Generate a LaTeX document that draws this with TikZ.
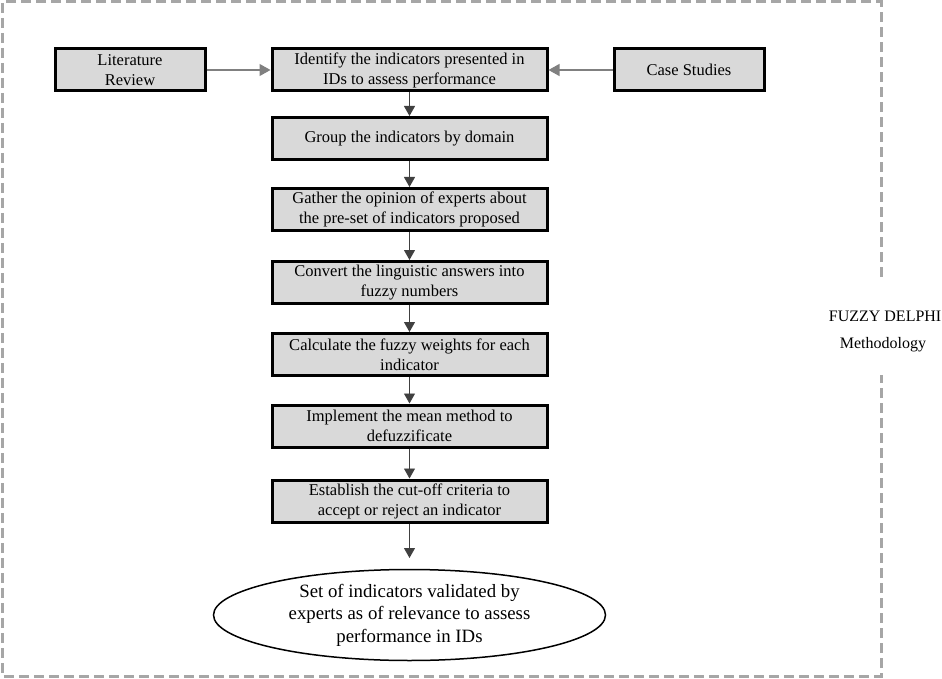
\documentclass[tikz,border=0pt]{standalone}
\usepackage{fontspec}
\setmainfont{Liberation Serif}
\usetikzlibrary{arrows.meta,shapes.geometric}
\definecolor{boxfill}{HTML}{D9D9D9}
\definecolor{dashgray}{HTML}{A6A6A6}
\definecolor{linegray}{HTML}{808080}
\tikzset{
  stepbox/.style={draw=black, line width=3pt, fill=boxfill, minimum width=275pt, minimum height=42pt,
    align=center, inner sep=0pt, font=\fontsize{16.5}{20}\selectfont},
  sidebox/.style={stepbox, minimum width=150pt},
  flow/.style={draw=black!75, line width=0.9pt, -{Triangle[length=10pt,width=11pt]}},
  sideflow/.style={draw=linegray, line width=1.2pt, -{Triangle[length=11pt,width=12pt]}},
  border/.style={draw=dashgray, line width=3pt, dash pattern=on 10pt off 5pt},
  lbl/.style={font=\fontsize{16}{20}\selectfont, inner sep=0pt}
}
\begin{document}
\begin{tikzpicture}[x=1pt,y=-1pt]
\useasboundingbox (0,0) rectangle (942,679);
% dashed frame
\draw[border] (881,277) -- (881,2) -- (2,2) -- (2,676) -- (881,676) -- (881,375);
% nodes
\node[sidebox] (lit) at (130,70) {Literature\\Review};
\node[stepbox] (idf) at (409.5,70) {Identify the indicators presented in\\IDs to assess performance};
\node[sidebox] (case) at (689,70) {Case Studies};
\node[stepbox] (grp) at (409.5,138.5) {Group the indicators by domain};
\node[stepbox] (gat) at (409.5,209.5) {Gather the opinion of experts about\\the pre-set of indicators proposed};
\node[stepbox] (con) at (409.5,282.5) {Convert the linguistic answers into\\fuzzy numbers};
\node[stepbox] (cal) at (409.5,354.5) {Calculate the fuzzy weights for each\\indicator};
\node[stepbox] (imp) at (409.5,426) {Implement the mean method to\\defuzzificate};
\node[stepbox] (est) at (409.5,501) {Establish the cut-off criteria to\\accept or reject an indicator};
\node[ellipse, draw=black, line width=1.5pt, minimum width=392pt, minimum height=91pt, inner sep=-3pt,
  align=center, font=\fontsize{18.8}{22.5}\selectfont] (set) at (409.5,615)
  {Set of indicators validated by\\experts as of relevance to assess\\performance in IDs};
\node[lbl, anchor=east] (fd) at (941.5,316) {FUZZY DELPHI};
\node[lbl] (meth) at (883,345) {Methodology};
% connectors
\draw[sideflow] (lit) -- (idf);
\draw[sideflow] (case) -- (idf);
\draw[flow] (idf) -- (grp);
\draw[flow] (grp) -- (gat);
\draw[flow] (gat) -- (con);
\draw[flow] (con) -- (cal);
\draw[flow] (cal) -- (imp);
\draw[flow] (imp) -- (est);
\draw[flow] (est.south) -- (est.south |- 0,558);
\end{tikzpicture}
\end{document}
